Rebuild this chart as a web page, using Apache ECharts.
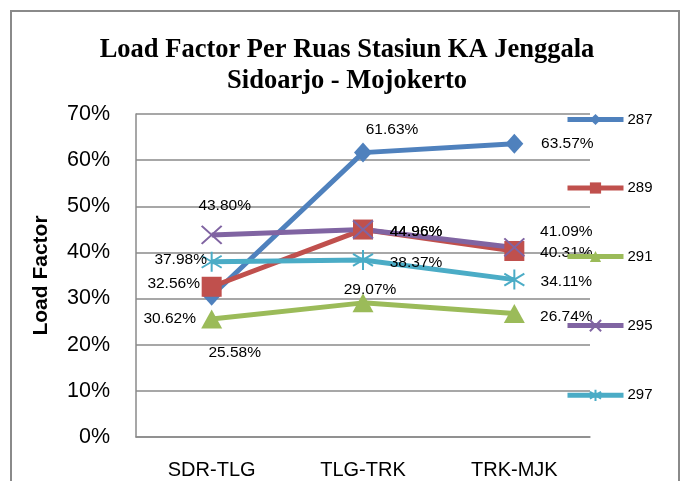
<!DOCTYPE html>
<html>
<head>
<meta charset="utf-8">
<script src="https://cdn.jsdelivr.net/npm/echarts@6/dist/echarts.min.js"></script>
<style>
html,body{margin:0;padding:0;background:#fff;}
#chart_lf{width:683px;height:481px;}
</style>
</head>
<body>
<div id="chart_lf"></div>
<script>
// data (persen)
var ruas = ['SDR-TLG', 'TLG-TRK', 'TRK-MJK'];
var ka_287 = [30.62, 61.63, 63.57];
var ka_289 = [32.56, 44.96, 40.31];
var ka_291 = [25.58, 29.07, 26.74];
var ka_295 = [43.80, 44.96, 41.09];
var ka_297 = [37.98, 38.37, 34.11];
var y_ticks = [0, 10, 20, 30, 40, 50, 60, 70];

// posisi label tiap titik (geser dari titik)
var off_287 = [[-42, 23], [29, -23], [53, 0]];
var off_289 = [[-38, -3], [53, 2], [52, 2]];
var off_291 = [[23, 34], [7, -13], [52, 3]];
var off_295 = [[13, -29], [53, 2], [52, -16]];
var off_297 = [[-31, -2], [53, 3], [52, 2]];

function withLabel(vals, offs){
    var arr = [];
    for(var i=0;i<vals.length;i++){
        arr.push({value: vals[i], label: {offset: offs[i]}});
    }
    return arr;
}

function makeSeries(name, color, vals, offs, symbol, size, stroke){
    var s = {
        name: name,
        type: 'line',
        data: withLabel(vals, offs),
        symbol: symbol,
        symbolSize: size,
        lineStyle: {width: 5, color: color},
        itemStyle: {color: color},
        label: {
            show: true,
            position: 'inside',
            color: '#000',
            fontSize: 15.5,
            fontFamily: 'Liberation Sans',
            formatter: function(p){ return p.value.toFixed(2) + '%'; }
        }
    };
    if(stroke){
        s.itemStyle = {color: 'none', borderColor: color, borderWidth: 2};
    }
    return s;
}

var myChart = echarts.init(document.getElementById('chart_lf'));
var option = {
    animation: false,
    backgroundColor: '#fff',
    title: {
        text: 'Load Factor Per Ruas Stasiun KA Jenggala\nSidoarjo - Mojokerto',
        left: 342,
        textAlign: 'center',
        top: 30,
        textStyle: {
            fontFamily: 'Liberation Serif',
            fontWeight: 'bold',
            fontSize: 26.5,
            lineHeight: 31,
            color: '#000'
        }
    },
    graphic: [{
        type: 'rect',
        shape: {x: 11, y: 11, width: 668, height: 500},
        style: {fill: 'none', stroke: '#8a8a8a', lineWidth: 2},
        silent: true
    }],
    legend: {
        orient: 'vertical',
        left: 565,
        top: 112,
        padding: 0,
        itemWidth: 56,
        itemHeight: 14,
        itemGap: 53.5,
        lineStyle: {width: 5},
        textStyle: {fontSize: 15, fontFamily: 'Liberation Sans', color: '#000', padding: [0, 0, 0, -1]},
        data: ['287', '289', '291', '295', '297']
    },
    grid: {left: 136, right: 93, top: 114, bottom: 44},
    xAxis: {
        type: 'category',
        data: ruas,
        boundaryGap: true,
        axisLine: {show: true, lineStyle: {color: '#8a8a8a', width: 1.5}},
        axisTick: {show: false},
        axisLabel: {fontSize: 20, fontFamily: 'Liberation Sans', color: '#000', margin: 23}
    },
    yAxis: {
        type: 'value',
        min: y_ticks[0],
        max: y_ticks[y_ticks.length-1],
        interval: 10,
        name: 'Load Factor',
        nameLocation: 'middle',
        nameGap: 84,
        nameTextStyle: {fontSize: 21, fontWeight: 'bold', fontFamily: 'Liberation Sans', color: '#000'},
        axisLine: {show: true, lineStyle: {color: '#8a8a8a', width: 1.5}},
        axisTick: {show: false},
        axisLabel: {formatter: '{value}%', fontSize: 21.5, fontFamily: 'Liberation Sans', color: '#000', margin: 26},
        splitLine: {show: true, lineStyle: {color: '#8a8a8a', width: 1.5}}
    },
    series: [
        makeSeries('287', '#4f81bd', ka_287, off_287, 'diamond', [18, 20], false),
        makeSeries('289', '#c0504d', ka_289, off_289, 'rect', 20, false),
        makeSeries('291', '#9bbb59', ka_291, off_291, 'triangle', [21, 19], false),
        makeSeries('295', '#8064a2', ka_295, off_295, 'path://M0,0L20,20M20,0L0,20', [20, 18], true),
        makeSeries('297', '#4bacc6', ka_297, off_297, 'path://M10,0L10,20M2,4L18,16M18,4L2,16', [20, 20], true)
    ]
};
myChart.setOption(option);
</script>
</body>
</html>
